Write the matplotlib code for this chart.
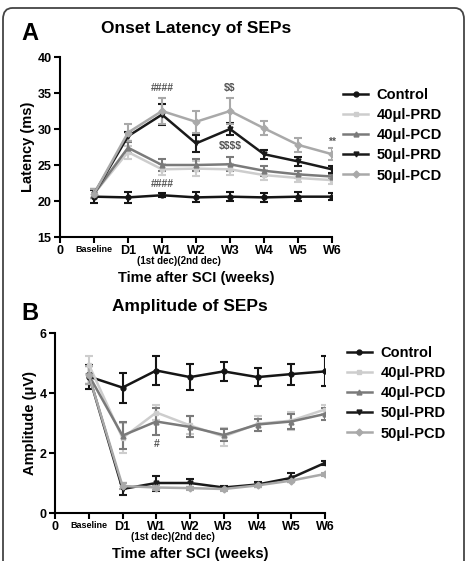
#%% import packages
import numpy as np
import matplotlib
matplotlib.use('Agg')
import matplotlib.pyplot as plt
from matplotlib.patches import FancyBboxPatch
from matplotlib.lines import Line2D

#%% data
x_labels_ = ['0', 'Baseline', 'D1', 'W1', 'W2', 'W3', 'W4', 'W5', 'W6']
groups_ = ['Control', '40\u03bcl-PRD', '40\u03bcl-PCD', '50\u03bcl-PRD', '50\u03bcl-PCD']

# onset latency (ms), Baseline..W6
lat_ctrl_ = [20.6, 20.5, 20.8, 20.5, 20.6, 20.5, 20.6, 20.6]
lat_ctrl_err_ = [0.9, 0.8, 0.3, 0.7, 0.6, 0.6, 0.6, 0.5]
lat_40prd_ = [21.0, 26.8, 24.4, 24.5, 24.4, 23.6, 23.2, 22.9]
lat_40prd_err_ = [0.6, 0.9, 0.8, 1.0, 0.8, 0.7, 0.5, 0.5]
lat_40pcd_ = [21.0, 27.4, 25.0, 25.0, 25.1, 24.2, 23.7, 23.4]
lat_40pcd_err_ = [0.6, 0.8, 0.9, 0.8, 1.0, 0.7, 0.5, 0.4]
lat_50prd_ = [21.0, 29.0, 32.0, 28.0, 30.0, 26.5, 25.5, 24.4]
lat_50prd_err_ = [0.6, 0.6, 1.5, 1.2, 0.9, 0.6, 0.6, 0.5]
lat_50pcd_ = [21.0, 29.5, 32.5, 31.0, 32.5, 30.1, 27.8, 26.5]
lat_50pcd_err_ = [0.6, 1.2, 1.8, 1.5, 1.8, 1.0, 1.0, 0.8]

# amplitude (uV), Baseline..W6
amp_ctrl_ = [4.55, 4.18, 4.75, 4.53, 4.72, 4.53, 4.63, 4.72]
amp_ctrl_err_ = [0.4, 0.5, 0.47, 0.43, 0.33, 0.3, 0.35, 0.5]
amp_40prd_ = [4.95, 2.5, 3.35, 2.92, 2.55, 2.97, 3.08, 3.45]
amp_40prd_err_ = [0.3, 0.5, 0.25, 0.3, 0.3, 0.25, 0.3, 0.15]
amp_40pcd_ = [4.6, 2.58, 3.05, 2.87, 2.6, 2.95, 3.05, 3.3]
amp_40pcd_err_ = [0.3, 0.45, 0.45, 0.35, 0.2, 0.2, 0.25, 0.2]
amp_50prd_ = [4.6, 0.8, 1.0, 1.0, 0.85, 0.95, 1.17, 1.67]
amp_50prd_err_ = [0.3, 0.2, 0.25, 0.12, 0.05, 0.08, 0.15, 0.08]
amp_50pcd_ = [4.6, 0.9, 0.85, 0.83, 0.8, 0.92, 1.08, 1.3]
amp_50pcd_err_ = [0.3, 0.1, 0.08, 0.05, 0.05, 0.05, 0.05, 0.05]

# significance marks (text, x index, y value)
marks_a_ = [('####', 3, 35.7), ('$$', 5, 35.7), ('$$$$', 5, 27.6), ('####', 3, 22.4), ('**', 8, 28.2)]
marks_b_ = [('#', 3, 2.3)]

#%% styles
colors_ = ['#151515', '#cdcdcd', '#7a7a7a', '#1a1a1a', '#a9a9a9']
markers_ = ['o', 's', '^', 'v', 'D']
plt.rcParams['font.family'] = ['Liberation Sans', 'DejaVu Sans']
plt.rcParams['font.weight'] = 'bold'

fig = plt.figure(figsize=(4.67, 5.61), dpi=100)

# rounded frame
frame_ = FancyBboxPatch((3 / 467, -0.05), 461 / 467, 1.05 - 8 / 561,
                        boxstyle='round,pad=0,rounding_size=0.02',
                        transform=fig.transFigure, fill=False,
                        edgecolor='#444444', linewidth=1.3)
fig.patches.append(frame_)

x_ = np.arange(1, 9)


def draw_panel(ax, series, errs, ylim, yticks, ylabel, marks, leg_anchor):
    handles_ = []
    for i_, (y_, e_) in enumerate(zip(series, errs)):
        ax.errorbar(x_, y_, yerr=e_, color=colors_[i_], marker=markers_[i_],
                    markersize=3.5, linewidth=1.8, elinewidth=1.5, capsize=3,
                    capthick=1.5)
        handles_.append(Line2D([], [], color=colors_[i_], marker=markers_[i_],
                               markersize=3.5, linewidth=1.8, label=groups_[i_]))
    ax.set_xlim(0, 8)
    ax.set_ylim(ylim)
    ax.set_yticks(yticks)
    ax.set_xticks(np.arange(0, 9))
    ax.set_xticklabels(x_labels_, fontsize=9, fontweight='bold')
    ax.get_xticklabels()[1].set_fontsize(6.5)
    for t_ in ax.get_yticklabels():
        t_.set_fontsize(9)
        t_.set_fontweight('bold')
    ax.spines['top'].set_visible(False)
    ax.spines['right'].set_visible(False)
    ax.spines['left'].set_linewidth(1.5)
    ax.spines['bottom'].set_linewidth(1.5)
    ax.tick_params(width=1.5, length=4, pad=2)
    ax.set_ylabel(ylabel, fontsize=10.5, fontweight='bold', labelpad=2)
    ax.set_xlabel('Time after SCI (weeks)', fontsize=10.5, fontweight='bold', labelpad=10)
    ax.text(3.5, -0.135, '(1st dec)(2nd dec)', transform=ax.get_xaxis_transform(),
            ha='center', va='center', fontsize=7, fontweight='bold')
    for s_, xi_, yv_ in marks:
        ax.text(xi_, yv_, s_, ha='center', va='center', fontsize=7.5,
                fontweight='bold', color='#555555', parse_math=False)
    ax.legend(handles=handles_, loc='upper left', bbox_to_anchor=leg_anchor, frameon=False,
              fontsize=10.5, handlelength=1.7, handletextpad=0.6, labelspacing=0.42,
              borderaxespad=0)


#%% panel A
ax_a_ = fig.add_axes([60 / 467, 1 - 237 / 561, 272 / 467, 180 / 561])
draw_panel(ax_a_,
           [lat_ctrl_, lat_40prd_, lat_40pcd_, lat_50prd_, lat_50pcd_],
           [lat_ctrl_err_, lat_40prd_err_, lat_40pcd_err_, lat_50prd_err_, lat_50pcd_err_],
           (15, 40), np.arange(15, 41, 5), 'Latency (ms)', marks_a_, (1.02, 0.86))
fig.text(196 / 467, 1 - 29 / 561, 'Onset Latency of SEPs', ha='center', va='center',
         fontsize=12.5, fontweight='bold')
fig.text(21 / 467, 1 - 33 / 561, 'A', ha='left', va='center', fontsize=17, fontweight='bold')

#%% panel B
ax_b_ = fig.add_axes([55 / 467, 1 - 513 / 561, 270 / 467, 180 / 561])
draw_panel(ax_b_,
           [amp_ctrl_, amp_40prd_, amp_40pcd_, amp_50prd_, amp_50pcd_],
           [amp_ctrl_err_, amp_40prd_err_, amp_40pcd_err_, amp_50prd_err_, amp_50pcd_err_],
           (0, 6), np.arange(0, 7, 2), 'Amplitude (\u03bcV)', marks_b_, (1.06, 0.96))
fig.text(190 / 467, 1 - 306 / 561, 'Amplitude of SEPs', ha='center', va='center',
         fontsize=12.5, fontweight='bold')
fig.text(21 / 467, 1 - 314 / 561, 'B', ha='left', va='center', fontsize=17, fontweight='bold')

fig.savefig('out.png', dpi=100)
